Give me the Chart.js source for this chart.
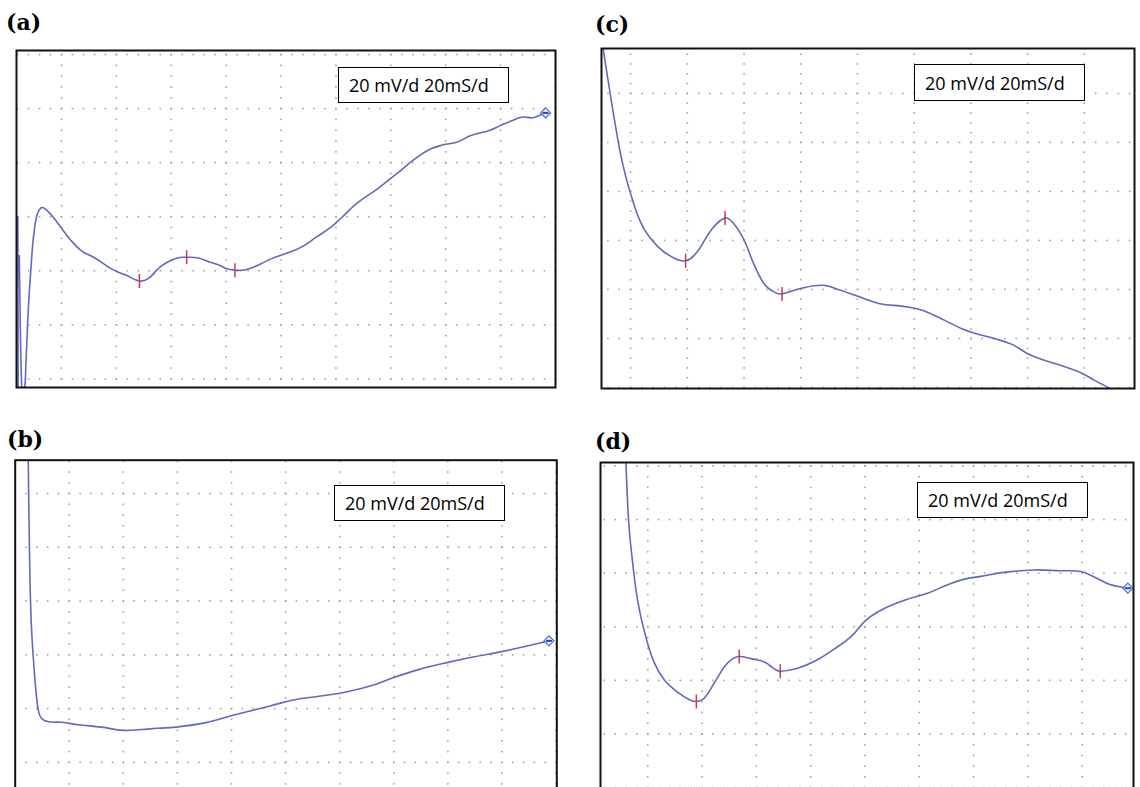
<!DOCTYPE html>
<html>
<head>
<meta charset="utf-8">
<title>Scope traces</title>
<script src="https://cdn.jsdelivr.net/npm/chart.js@4.4.0/dist/chart.umd.min.js"></script>
<style>
  body { margin: 0; width: 1140px; height: 787px; overflow: hidden; background: #fff; position: relative; }
  canvas { position: absolute; }
  .panel-label { position: absolute; font-family: "DejaVu Serif", serif; font-weight: bold; font-size: 22px; line-height: 1; color: #000; }
  .scale-box { position: absolute; box-sizing: border-box; border: 1.6px solid #000; background: #fff;
               font-family: "Open Sans", sans-serif; font-size: 18px; color: #000;
               display: flex; align-items: center; padding-left: 10px; white-space: nowrap; }
</style>
</head>
<body>

<div class="panel-label" style="left:6px; top:11px;">(a)</div>
<div class="panel-label" style="left:595px; top:13px;">(c)</div>
<div class="panel-label" style="left:7px; top:428px;">(b)</div>
<div class="panel-label" style="left:595px; top:430px;">(d)</div>

<canvas id="scopeA" width="556" height="354" style="left:8px; top:42px;"></canvas>
<canvas id="scopeB" width="554" height="360" style="left:9px; top:454px;"></canvas>
<canvas id="scopeC" width="550" height="357" style="left:593px; top:40px;"></canvas>
<canvas id="scopeD" width="550" height="360" style="left:592px; top:454px;"></canvas>

<div class="scale-box" style="left:338px; top:67px; width:171px; height:36px;">20 mV/d 20mS/d</div>
<div class="scale-box" style="left:914px; top:64px; width:171px; height:37px;">20 mV/d 20mS/d</div>
<div class="scale-box" style="left:334px; top:485px; width:171px; height:36px;">20 mV/d 20mS/d</div>
<div class="scale-box" style="left:917px; top:482px; width:171px; height:36px;">20 mV/d 20mS/d</div>

<script>
// ---------------- Data (time in ms, voltage in mV; 20 mV/div, 20 ms/div) ----------------
// (a)
const timeA = [4.1, 4.2, 4.4, 4.6, 5.6, 6.5, 7.0, 7.7, 8.3, 8.9, 9.5, 10.1, 10.7, 11.3, 12.0, 12.9, 14.0, 15.4, 17.2, 19.6,
  23.2, 27.4, 31.9, 38.7, 43.4, 48.4, 51.6, 54.9, 56.7, 60.2, 63.1, 65.6, 69.9, 73.9, 77.1, 80.3, 83.2, 86.0, 88.9, 92.5,
  96.1, 104.0, 107.9, 113.1, 118.3, 122.2, 127.6, 135.5, 143.2, 148.4, 153.7, 158.8, 164.2, 169.4, 175.9, 179.8, 185.0,
  188.2, 191.6, 194.7, 196.4];
const voltA = [60.2, -6.1, null, 45.8, -6.1, -4.3, 4.7, 21.6, 32.8, 41.4, 49.7, 55.1, 59.1, 61.3, 62.7, 63.4, 62.9, 61.6, 59.5, 56.3,
  51.5, 47.3, 44.9, 40.4, 38.4, 36.2, 37.1, 40.4, 42.0, 44.0, 44.9, 45.0, 44.7, 43.2, 42.2, 40.7, 40.2, 40.2, 40.9, 42.5,
  44.3, 47.2, 49.0, 52.6, 56.2, 59.8, 64.9, 70.6, 76.8, 81.1, 84.7, 86.5, 87.6, 90.1, 91.9, 93.7, 95.9,
  96.9, 96.6, 97.7, 98.4];
const markTimeA = [48.4, 65.6, 83.2];
const markVoltA = [36.2, 45.0, 40.2];
const endTimeA = [196.4];
const endVoltA = [98.4];

// (b)
const timeB = [4.8, 5.3, 5.9, 7.0, 7.8, 8.7, 9.9, 12.4, 17.2, 23.4, 31.9, 39.9, 46.6, 52.7, 59.4, 70.1, 80.9, 94.3, 102.4, 113.0,
  122.4, 133.2, 139.8, 149.2, 160.0, 169.3, 180.0, 189.3, 197.4];
const voltB = [115.3, 77.5, 52.9, 34.5, 25.3, 18.7, 16.2, 15.1, 14.9, 14.0, 13.1, 11.9, 12.2, 12.7, 13.1, 14.7, 17.6, 21.0, 23.1, 24.7,
  26.2, 29.0, 31.5, 34.5, 37.2, 39.2, 41.2, 43.3, 45.2];
const markTimeB = [];
const markVoltB = [];
const endTimeB = [197.4];
const endVoltB = [45.2];

// (c)
const timeC = [10.1, 12.4, 14.3, 16.8, 20.0, 24.3, 29.5, 34.5, 39.4, 43.4, 48.5, 53.3, 56.1, 59.9, 63.7, 67.5, 71.3, 73.4, 78.9, 87.7,
  94.0, 101.6, 107.9, 116.8, 123.1, 130.8, 137.0, 142.1, 148.5, 154.7, 159.9, 164.9, 172.4, 178.8, 183.8, 189.0, 192.8];
const voltC = [119.9, 102.8, 89.3, 73.4, 59.1, 45.6, 37.6, 33.3, 31.7, 35.2, 44.4, 49.2, 47.2, 40.4, 29.7, 21.7, 18.6, 18.2, 20.1, 21.7,
  19.7, 16.6, 14.2, 13.0, 11.4, 7.4, 3.9, 1.9, -0.1, -2.5, -6.1, -8.5, -11.2, -14.0, -17.2, -20.4, -23.2];
const markTimeC = [39.4, 53.3, 73.4];
const markVoltC = [31.7, 49.2, 18.2];
const endTimeC = [];
const endVoltC = [];

// (d)
const timeD = [11.8, 13.0, 14.4, 16.3, 18.9, 22.3, 26.2, 31.5, 35.5, 37.9, 40.8, 44.7, 48.7, 51.4, 53.7, 58.0, 63.3, 66.6, 68.8, 75.2,
  81.8, 88.4, 95.0, 100.3, 106.9, 114.8, 122.8, 130.7, 135.9, 142.6, 151.9, 162.4, 171.7, 179.6, 184.8, 190.2, 196.8];
const voltD = [105.0, 78.8, 64.3, 49.7, 37.7, 26.8, 20.0, 15.2, 12.7, 12.1, 13.3, 19.4, 25.7, 28.1, 28.9, 28.1, 26.7, 24.3, 23.4, 24.5,
  27.3, 31.5, 36.4, 42.4, 46.7, 50.0, 52.4, 55.8, 57.6, 58.8, 60.4, 61.2, 60.9, 60.6, 58.4, 55.8, 54.4];
const markTimeD = [37.9, 53.7, 68.8];
const markVoltD = [12.1, 28.9, 23.4];
const endTimeD = [196.8];
const endVoltD = [54.4];

const MAJOR = 20;   // one division
const MINOR = 4;    // five dots per division

// ---------------- Styles ----------------
const TRACE = "#6069bf";
const TICK = "#c93a52";
const GRID_DOT = "#a3a3a3";

// visible window of each screen (ms / mV)
const views = {
  scopeA: { x: [3.6, 200.0], y: [-3.2, 121.5] },
  scopeB: { x: [0.0, 200.3], y: [-16.9, 112.4] },
  scopeC: { x: [9.74, 197.7], y: [-20.4, 118.3] },
  scopeD: { x: [2.6, 198.9], y: [-26.7, 101.3] },
};

const pts = (xs, ys) => xs.map((x, i) => ({ x, y: ys[i] }));

// dotted oscilloscope graticule + black frame
const scopeGrid = {
  id: "scopeGrid",
  beforeDatasetsDraw(chart) {
    const { ctx, scales: { x, y } } = chart;
    ctx.save();
    ctx.fillStyle = GRID_DOT;
    const dot = (px, py) => ctx.fillRect(px - 0.8, py - 0.8, 1.6, 1.6);
    // vertical major lines, dotted at minor y steps
    for (let i = Math.ceil(x.min / MAJOR); i * MAJOR <= x.max; i++) {
      const px = x.getPixelForValue(i * MAJOR);
      for (let j = Math.ceil(y.min / MINOR); j * MINOR <= y.max; j++) dot(px, y.getPixelForValue(j * MINOR));
    }
    // horizontal major lines, dotted at minor x steps
    for (let j = Math.ceil(y.min / MAJOR); j * MAJOR <= y.max; j++) {
      const py = y.getPixelForValue(j * MAJOR);
      for (let i = Math.ceil(x.min / MINOR); i * MINOR <= x.max; i++) dot(x.getPixelForValue(i * MINOR), py);
    }
    ctx.restore();
  },
  afterDatasetsDraw(chart) {
    const { ctx, chartArea: a } = chart;
    ctx.save();
    ctx.strokeStyle = "#111";
    ctx.lineWidth = 2;
    ctx.strokeRect(a.left, a.top, a.right - a.left, a.bottom - a.top);
    ctx.restore();
  },
};

function makeScope(id, trace, marks, ends) {
  const v = views[id];
  return new Chart(document.getElementById(id), {
    type: "line",
    data: {
      datasets: [
        {
          data: trace,
          borderColor: TRACE,
          borderWidth: 1.6,
          pointRadius: 0,
          tension: 0.4,
          spanGaps: false,
          order: 3,
        },
        {
          data: marks,
          showLine: false,
          pointStyle: "line",
          pointRotation: 90,
          pointRadius: 7,
          pointBorderColor: TICK,
          pointBorderWidth: 1.5,
          order: 2,
        },
        {
          data: ends,
          showLine: false,
          pointStyle: "rectRot",
          pointRadius: 5,
          pointBorderColor: "#4f6fd0",
          pointBackgroundColor: "rgba(230,236,255,0.9)",
          pointBorderWidth: 1.2,
          clip: false,
          order: 1,
        },
        {
          data: ends,
          showLine: false,
          pointStyle: "line",
          pointRadius: 3,
          pointBorderColor: "#2a4bb5",
          pointBorderWidth: 2,
          clip: false,
          order: 0,
        },
      ],
    },
    options: {
      responsive: false,
      animation: false,
      events: [],
      layout: { padding: 4 },
      plugins: { legend: { display: false }, tooltip: { enabled: false } },
      scales: {
        x: { type: "linear", display: false, min: v.x[0], max: v.x[1] },
        y: { type: "linear", display: false, min: v.y[0], max: v.y[1] },
      },
    },
    plugins: [scopeGrid],
  });
}

makeScope("scopeA", pts(timeA, voltA), pts(markTimeA, markVoltA), pts(endTimeA, endVoltA));
makeScope("scopeB", pts(timeB, voltB), pts(markTimeB, markVoltB), pts(endTimeB, endVoltB));
makeScope("scopeC", pts(timeC, voltC), pts(markTimeC, markVoltC), pts(endTimeC, endVoltC));
makeScope("scopeD", pts(timeD, voltD), pts(markTimeD, markVoltD), pts(endTimeD, endVoltD));
</script>
</body>
</html>
